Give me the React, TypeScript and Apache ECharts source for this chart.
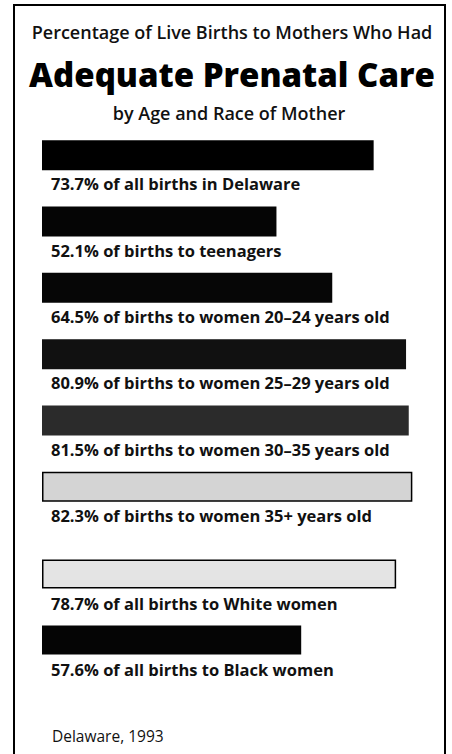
import React, { useEffect, useRef } from "react";
import * as echarts from "echarts";

const ageGroups = [
  "all births in Delaware",
  "births to teenagers",
  "births to women 20–24 years old",
  "births to women 25–29 years old",
  "births to women 30–35 years old",
  "births to women 35+ years old",
];
const ageValues = [73.7, 52.1, 64.5, 80.9, 81.5, 82.3];

const raceGroups = ["all births to White women", "all births to Black women"];
const raceValues = [78.7, 57.6];

const titleLine1 = "Percentage of Live Births to Mothers Who Had";
const titleLine2 = "Adequate Prenatal Care";
const titleLine3 = "by Age and Race of Mother";
const footer = "Delaware, 1993";

const ageFills = ["#000000", "#050505", "#060606", "#111111", "#2b2b2b", "#d4d4d4"];
const ageBorders = [false, false, false, false, false, true];
const raceFills = ["#e4e4e4", "#050505"];
const raceBorders = [true, false];

const FONT = "'Open Sans', 'DejaVu Sans', sans-serif";

function buildData(values: number[], fills: string[], borders: boolean[]) {
  return values.map((v, i) => ({
    value: v,
    itemStyle: {
      color: fills[i],
      borderColor: "#000",
      borderWidth: borders[i] ? 1.5 : 0,
    },
  }));
}

export default function App() {
  const ref = useRef<HTMLDivElement>(null);
  useEffect(() => {
    if (!ref.current) return;
    const chart = echarts.init(ref.current, null, { renderer: "svg" });
    const labelCfg = (groups: string[]) => ({
      show: true,
      position: [9, 43.5] as any,
      align: "left",
      verticalAlign: "middle",
      color: "#111",
      fontFamily: FONT,
      fontWeight: 700,
      fontSize: 16.5,
      formatter: (p: any) => `${p.value}% of ${groups[p.dataIndex]}`,
    });
    chart.setOption({
      animation: false,
      backgroundColor: "#ffffff",
      title: [
        {
          text: titleLine1,
          left: 232,
          top: 23,
          padding: 0,
          textAlign: "center",
          textStyle: { fontFamily: FONT, fontWeight: 600, fontSize: 18, color: "#111" },
        },
        {
          text: titleLine2,
          left: 232,
          top: 58,
          padding: 0,
          textAlign: "center",
          textStyle: { fontFamily: FONT, fontWeight: 800, fontSize: 33, color: "#000" },
        },
        {
          text: titleLine3,
          left: 229,
          top: 104,
          padding: 0,
          textAlign: "center",
          textStyle: { fontFamily: FONT, fontWeight: 600, fontSize: 18, color: "#111" },
        },
        {
          text: footer,
          left: 52,
          top: 728,
          padding: 0,
          textStyle: { fontFamily: FONT, fontWeight: 400, fontSize: 15.5, color: "#111" },
        },
      ],
      grid: [
        { left: 42, width: 405, top: 122, height: 398 },
        { left: 42, width: 405, top: 541, height: 132 },
      ],
      xAxis: [
        { type: "value", gridIndex: 0, min: 0, max: 90, show: false },
        { type: "value", gridIndex: 1, min: 0, max: 90, show: false },
      ],
      yAxis: [
        { type: "category", gridIndex: 0, data: ageGroups, inverse: true, show: false },
        { type: "category", gridIndex: 1, data: raceGroups, inverse: true, show: false },
      ],
      series: [
        {
          type: "bar",
          xAxisIndex: 0,
          yAxisIndex: 0,
          barWidth: 30,
          data: buildData(ageValues, ageFills, ageBorders),
          label: labelCfg(ageGroups),
        },
        {
          type: "bar",
          xAxisIndex: 1,
          yAxisIndex: 1,
          barWidth: 29,
          data: buildData(raceValues, raceFills, raceBorders),
          label: labelCfg(raceGroups),
        },
      ],
      graphic: [
        {
          type: "rect",
          shape: { x: 14, y: 5, width: 431, height: 770 },
          style: { fill: "none", stroke: "#000", lineWidth: 2 },
          silent: true,
        },
      ],
    });
    return () => chart.dispose();
  }, []);
  return (
    <div
      ref={ref}
      style={{ position: "fixed", left: 0, top: 0, width: 452, height: 754, background: "#fff" }}
    />
  );
}
